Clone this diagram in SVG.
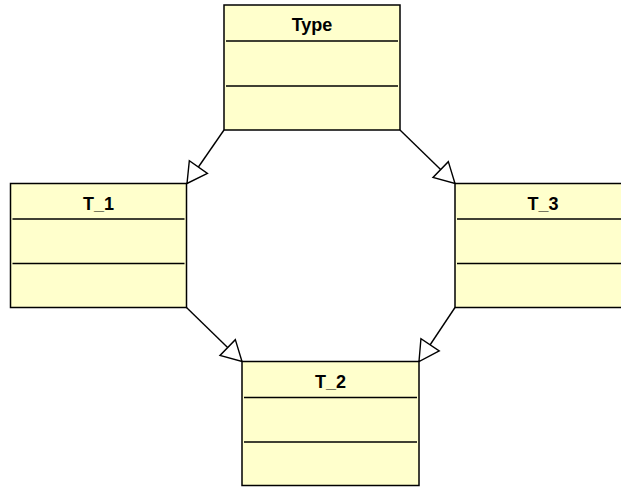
<svg xmlns="http://www.w3.org/2000/svg" width="621" height="487" viewBox="0 0 621 487">
  <style>
    .box { fill: #FFFFCC; stroke: #000; stroke-width: 1.5; }
    .div { stroke: #000; stroke-width: 1.5; }
    .title { font-family: "Liberation Sans", Arial, sans-serif; font-weight: bold; font-size: 18px; text-anchor: middle; fill: #000; }
    .edge { stroke: #000; stroke-width: 1.4; fill: none; marker-end: url(#gen); }
  </style>
  <defs>
    <!-- hollow triangle for generalization arrows -->
    <marker id="gen" markerUnits="userSpaceOnUse" markerWidth="24" markerHeight="26" refX="22" refY="13" orient="auto" viewBox="0 0 24 26">
      <path d="M2,2 L22,13 L2,24 Z" fill="#fff" stroke="#000" stroke-width="1.4"/>
    </marker>
  </defs>

  <g id="connectors">
    <line class="edge" x1="224" y1="130" x2="187" y2="183.5"/>
    <line class="edge" x1="400" y1="130" x2="455" y2="183.5"/>
    <line class="edge" x1="186.5" y1="307.5" x2="242" y2="361.5"/>
    <line class="edge" x1="455" y1="307.5" x2="419" y2="361.5"/>
  </g>

  <g id="Type">
    <rect class="box" x="224" y="5" width="176" height="125"/>
    <line class="div" x1="226" y1="41" x2="398" y2="41"/>
    <line class="div" x1="226" y1="86" x2="398" y2="86"/>
    <text class="title" x="312" y="30.5">Type</text>
  </g>

  <g id="T_1">
    <rect class="box" x="10.5" y="183.5" width="176" height="124"/>
    <line class="div" x1="12.5" y1="219" x2="184.5" y2="219"/>
    <line class="div" x1="12.5" y1="263.5" x2="184.5" y2="263.5"/>
    <text class="title" x="98.5" y="209.5">T_1</text>
  </g>

  <g id="T_3">
    <rect class="box" x="455" y="183.5" width="176" height="124"/>
    <line class="div" x1="457" y1="219" x2="629" y2="219"/>
    <line class="div" x1="457" y1="263.5" x2="629" y2="263.5"/>
    <text class="title" x="543" y="209.5">T_3</text>
  </g>

  <g id="T_2">
    <rect class="box" x="242" y="361.5" width="177" height="124"/>
    <line class="div" x1="244" y1="397.5" x2="417" y2="397.5"/>
    <line class="div" x1="244" y1="442" x2="417" y2="442"/>
    <text class="title" x="330.5" y="387.5">T_2</text>
  </g>
</svg>
